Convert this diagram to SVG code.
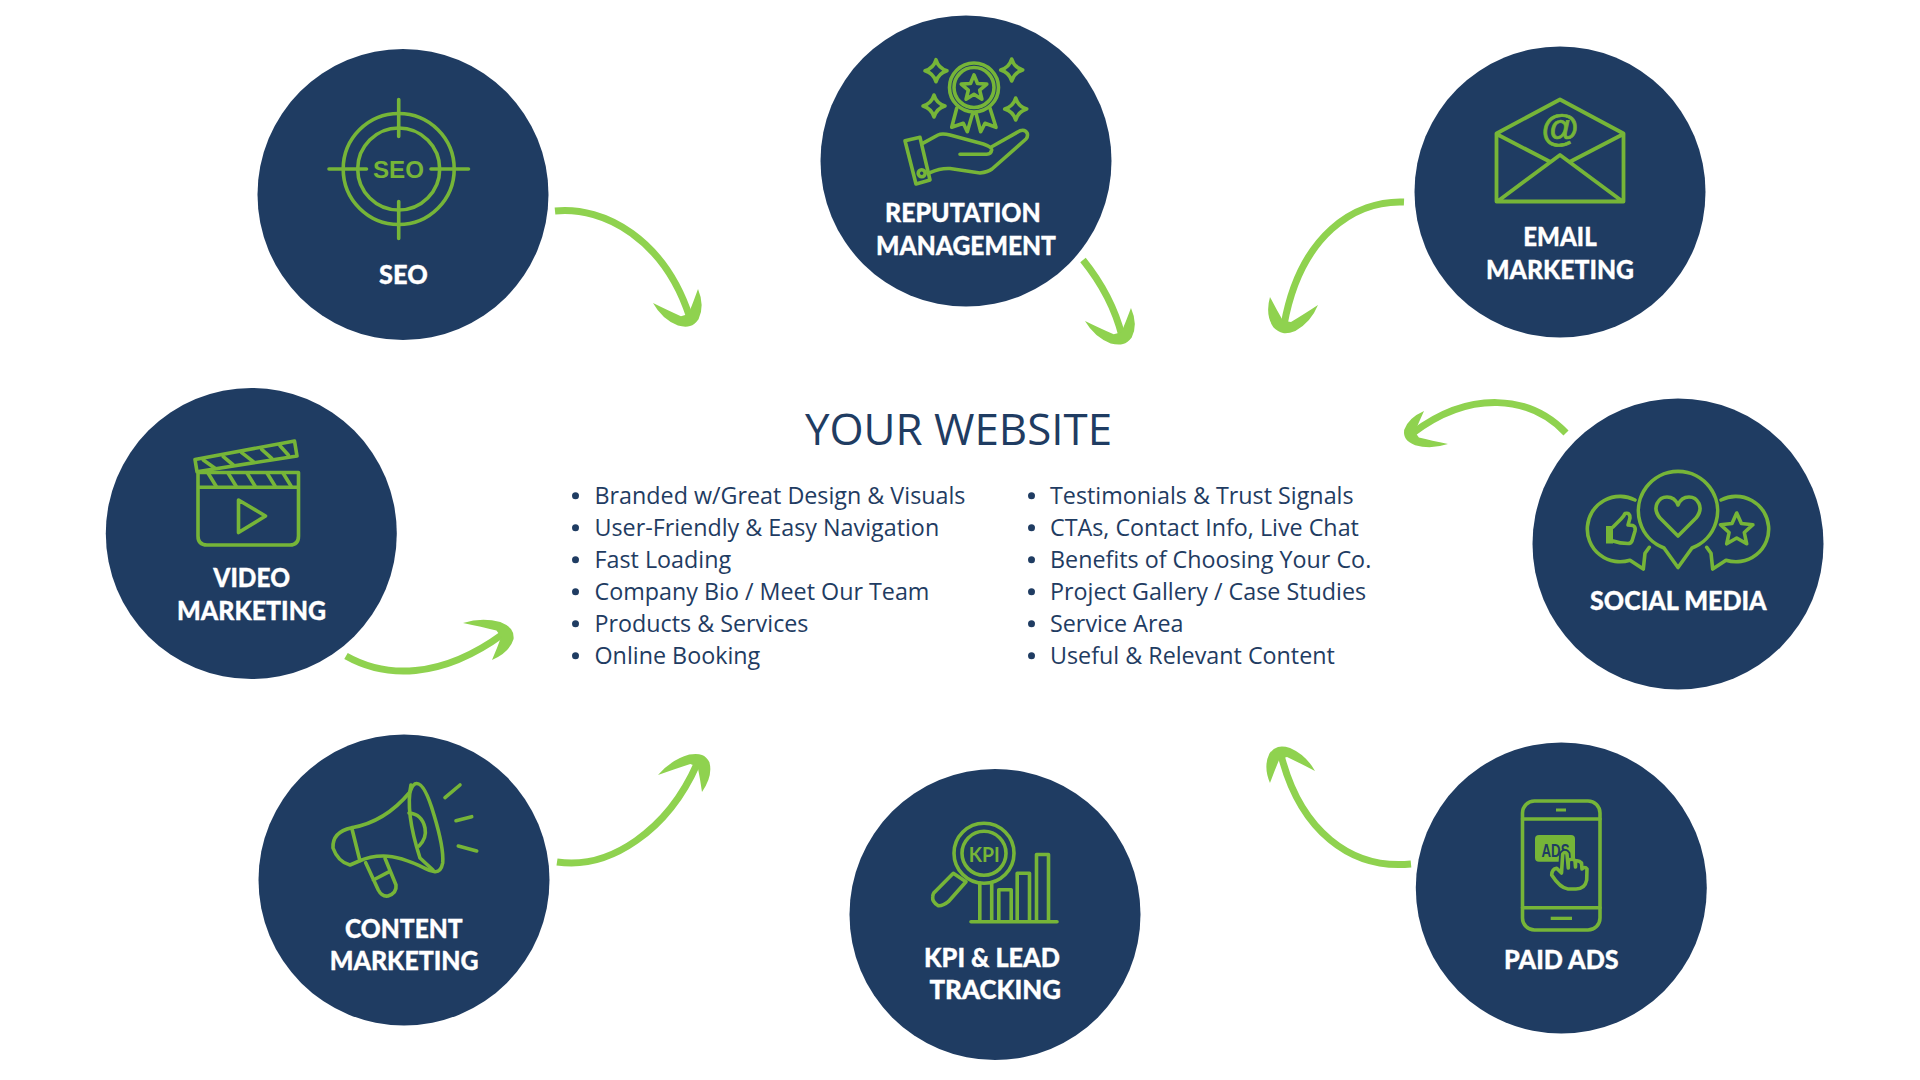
<svg xmlns="http://www.w3.org/2000/svg" xmlns:xlink="http://www.w3.org/1999/xlink" width="1920" height="1080" viewBox="0 0 1920 1080">
<style>
.disc{fill:#1f3c62}
.lb{font-family:Lato,"Liberation Sans",sans-serif;font-weight:900;font-size:26px;fill:#fff;stroke:#fff;stroke-width:.3px}
.ic{fill:none;stroke:#76b538;stroke-width:3.600;stroke-linejoin:round;stroke-linecap:round}
.gf{fill:#76b538}
.sh{fill:none;stroke:#8fd24f;stroke-width:7;stroke-linecap:butt}
.hd{fill:#8fd24f}
.tt{font-family:"Open Sans","Liberation Sans",sans-serif;fill:#1f3c62}
.li{font-size:23.300px}
.bu{fill:#1f3c62}
</style>
<defs>
<path id="head" d="M-33 24Q-21 13-12 4L-12-4Q-21-13-33-24Q-15-23-4-11Q0-5 0 0Q0 5-4 11Q-15 23-33 24Z"/>
<path id="spark" d="M0-11Q2.500-2.500 11 0Q2.500 2.500 0 11Q-2.500 2.500-11 0Q-2.500-2.500 0-11Z"/>
</defs>
<rect width="1920" height="1080" fill="#fff"/>

<g id="connectors">
<path class="sh" d="M555 211C605 206 665 240 690 318"/>
<use xlink:href="#head" href="#head" class="hd" transform="matrix(.439 .909 -.9375 .292 690 326)"/>
<path class="sh" d="M1083 260Q1112 296 1122 336"/>
<use xlink:href="#head" href="#head" class="hd" transform="matrix(.455 .894 -.958 .271 1123 344)"/>
<path class="sh" d="M1404 202C1355 200 1300 235 1284 325"/>
<use xlink:href="#head" href="#head" class="hd" transform="matrix(-.333 .97 -1 -.167 1283 333)"/>
<path class="sh" d="M1566 433C1530 395 1470 390 1413 433"/>
<use xlink:href="#head" href="#head" class="hd" transform="matrix(-.909 .348 -.5 -.6875 1406 439)"/>
<path class="sh" d="M346 656C385 678 440 680 503 634"/>
<use xlink:href="#head" href="#head" class="hd" transform="matrix(1.015 -.379 -.604 -.771 511 629)"/>
<path class="sh" d="M557 862C610 870 668 830 697 764"/>
<use xlink:href="#head" href="#head" class="hd" transform="matrix(.667 -.864 -.917 -.354 702 755)"/>
<path class="sh" d="M1411 864C1350 870 1300 830 1281 755"/>
<use xlink:href="#head" href="#head" class="hd" transform="matrix(-.439 -.909 .9375 -.25 1278 747)"/>
</g>

<g id="node-seo">
<circle class="disc" cx="403" cy="194.500" r="145.500"/>
<circle class="ic" cx="398.700" cy="169" r="55.500"/>
<circle class="ic" cx="398.700" cy="169" r="41"/>
<path class="ic" d="M398.700 99.500V136.500M398.700 201.500V238.500M329 169H366.500M431 169H468.500"/>
<text x="373" y="177.500" textLength="51" lengthAdjust="spacingAndGlyphs" font-family="'Liberation Sans',sans-serif" font-weight="700" font-size="24" fill="#76b538">SEO</text>
<text class="lb" x="379" y="284" textLength="48.700" lengthAdjust="spacingAndGlyphs">SEO</text>
</g>

<g id="node-reputation">
<circle class="disc" cx="966" cy="161" r="145.500"/>
<circle class="ic" cx="974" cy="87.500" r="24.500"/>
<circle class="ic" cx="974" cy="87.500" r="20"/>
<path class="ic" d="M974 74.800L977.500 83.500L986.800 84.100L979.700 90.200L981.900 99.200L974 94.300L966.100 99.200L968.300 90.200L961.200 84.100L970.500 83.500Z"/>
<path class="ic" d="M956.700 108.300L951.700 127.300L963.300 123.300L967.300 131.700L972.700 113.300M976 113.300L980.700 131.700L985 123.300L996 127.300L990 108.300"/>
<use xlink:href="#spark" href="#spark" class="ic" x="936" y="70.700"/>
<use xlink:href="#spark" href="#spark" class="ic" x="1011.700" y="70"/>
<use xlink:href="#spark" href="#spark" class="ic" x="934" y="106"/>
<use xlink:href="#spark" href="#spark" class="ic" x="1015.700" y="109"/>
<path class="ic" d="M905 140.700L920 137.300L930 180L916 184Z"/>
<circle class="ic" cx="921.700" cy="173.300" r="3.500"/>
<path class="ic" d="M922.700 143.300L938 135Q942 133 950 135L983.300 144Q992 147 991.700 150Q991 154 986.700 154.300H960M991.700 146.700L1020 130.700Q1025 129 1027.300 133.300Q1028 137 1026 139L992 169Q988 172 980 173L950 168.500Q940 168 930 172.700"/>
<text class="lb" x="885" y="222" textLength="155.700" lengthAdjust="spacingAndGlyphs">REPUTATION</text>
<text class="lb" x="876" y="255" textLength="180" lengthAdjust="spacingAndGlyphs">MANAGEMENT</text>
</g>

<g id="node-email">
<circle class="disc" cx="1560" cy="192" r="145.500"/>
<path class="ic" style="stroke-width:3.800" d="M1496.500 133.500L1560 99.500L1623.500 133.500V201.500H1496.500ZM1496.500 134L1550 161.700M1623.500 134L1570 161.700M1498 201L1560 155L1622 201"/>
<text x="1560" y="140.500" text-anchor="middle" font-family="'Liberation Sans',sans-serif" font-weight="700" font-size="38" fill="#76b538" stroke="#76b538" stroke-width=".7">@</text>
<text class="lb" x="1523.300" y="246.200" textLength="73.400" lengthAdjust="spacingAndGlyphs">EMAIL</text>
<text class="lb" x="1486" y="279" textLength="148" lengthAdjust="spacingAndGlyphs">MARKETING</text>
</g>

<g id="node-social">
<circle class="disc" cx="1678" cy="544" r="145.500"/>
<path class="ic" d="M1664 548A39.600 39.600 0 1 1 1692 548L1678 567.500Z"/>
<path class="ic" d="M1635 500A32.700 32.700 0 1 0 1630 560.200L1643.300 569L1645 553.300L1649.300 547.300"/>
<path class="ic" d="M1721 500A32.700 32.700 0 1 1 1726 560.200L1712.700 569L1711 553.300L1706.700 547.300"/>
<path class="ic" d="M1678 536L1660 518C1651 507 1659 497 1667 497C1672 497 1676 500 1678 505C1680 500 1684 497 1689 497C1697 497 1705 507 1696 518Z"/>
<path class="ic" d="M1736.700 513L1741.400 523.500L1752.900 524.700L1744.300 532.500L1746.700 543.800L1736.700 538L1726.700 543.800L1729.100 532.500L1720.500 524.700L1732 523.500Z"/>
<path class="ic" d="M1613 527L1621 519Q1624 516 1625 513.500Q1630 512 1630 518L1628 525L1633 525.500Q1636 527 1635 531L1632 541Q1631 543.500 1628 543.500Q1620 543.500 1613 541"/>
<rect class="gf" x="1606" y="526" width="7" height="17.500"/>
<text class="lb" x="1590" y="610" textLength="176.700" lengthAdjust="spacingAndGlyphs">SOCIAL MEDIA</text>
</g>

<g id="node-video">
<circle class="disc" cx="251.300" cy="533.500" r="145.500"/>
<path class="ic" d="M198 472.500H298.500V536Q298.500 545 290 545H207Q198 545 198 536ZM198 487.300H298.500"/>
<path class="ic" d="M195 459.500L294.500 441L297 456L197 471.700Z"/>
<path class="ic" d="M208 473L216 486M228 473L236 486M247 473L255 486M267 473L275 486M283 473L291 486M203.300 460L215 468.300M223.300 456.700L233.300 465M241.700 452.700L253.300 461.700M261.700 449.300L271.700 458.300M280 445.700L288.300 455"/>
<path class="ic" d="M238.500 500L265.500 516L238.500 532.500Z"/>
<text class="lb" x="213.300" y="586.700" textLength="76.700" lengthAdjust="spacingAndGlyphs">VIDEO</text>
<text class="lb" x="177" y="620" textLength="149" lengthAdjust="spacingAndGlyphs">MARKETING</text>
</g>

<g id="node-content">
<circle class="disc" cx="404" cy="880" r="145.500"/>
<path class="ic" d="M351.700 827.700Q385 822 410 792Q413 783 417 783.500Q425 784 434 815Q444 848 442.700 863Q441 872 435 871.700Q430 871 425 868.300Q400 856 383.300 856Q370 856 359.300 861L350 865Q338 862 333 848Q332 832 351.700 827.700L360 861"/>
<path class="ic" d="M411 785Q405 812 420 858L433 870"/>
<path class="ic" d="M409 813Q422 814 425 828Q427 838 419 846"/>
<path class="ic" d="M365.700 862.700L378.300 890Q382 897 388 896Q397 893 396 885L385 858.300M373.300 880L389.300 871.700"/>
<path class="ic" d="M445 797.700L460 785M456 820.700L471.700 816.700M458.300 846L476.700 851"/>
<text class="lb" x="345" y="938" textLength="117.700" lengthAdjust="spacingAndGlyphs">CONTENT</text>
<text class="lb" x="329.700" y="969.700" textLength="149" lengthAdjust="spacingAndGlyphs">MARKETING</text>
</g>

<g id="node-kpi">
<circle class="disc" cx="995" cy="914.500" r="145.500"/>
<circle class="ic" cx="984" cy="853.300" r="30"/>
<circle class="ic" cx="984" cy="853.300" r="22"/>
<text x="968.800" y="861.500" textLength="31" lengthAdjust="spacingAndGlyphs" font-family="Lato,sans-serif" font-weight="700" font-size="20" fill="#76b538">KPI</text>
<path class="ic" d="M953.300 873.300L966 881.700L948.300 901.700Q943 906 938.300 905.700Q932 902 932.700 896.700Q933 893 935 891.700Z"/>
<path class="ic" d="M971 921.700H1057M979.800 921.700V883M991.700 921.700V883M998.800 921.700V889.800H1011.200V921.700M1017.200 921.700V873.200H1029.500V921.700M1036.500 921.700V854.500H1048.500V921.700"/>
<text class="lb" x="924" y="967" textLength="136" lengthAdjust="spacingAndGlyphs">KPI &amp; LEAD</text>
<text class="lb" x="929.500" y="999" textLength="131.500" lengthAdjust="spacingAndGlyphs">TRACKING</text>
</g>

<g id="node-paid">
<circle class="disc" cx="1561.300" cy="888" r="145.500"/>
<rect class="ic" x="1522.500" y="801" width="77.500" height="129" rx="12"/>
<path class="ic" d="M1522.500 819H1600M1522.500 907.700H1600"/>
<rect class="gf" x="1556" y="808.500" width="10" height="3"/>
<rect class="gf" x="1550.700" y="916.700" width="21.300" height="3.300"/>
<rect class="gf" x="1535" y="835" width="40" height="26.700" rx="4"/>
<text x="1541.500" y="856.700" textLength="28" lengthAdjust="spacingAndGlyphs" font-family="'Liberation Sans',sans-serif" font-weight="700" font-size="19" fill="#1f3c62">ADS</text>
<path fill="none" stroke="#1f3c62" stroke-width="7" d="M1561.500 871L1562.700 854Q1565 851 1567 854L1568.300 868"/>
<path class="ic" style="fill:#1f3c62" d="M1561.500 873L1562.700 854Q1565 851 1567 854L1568.300 868V860.500Q1572 858 1575 860.500L1575.500 867V861Q1579 860 1581.500 863L1582 869Q1585 866 1587 869L1586.700 880Q1585 889 1576 889H1568Q1560 888 1551.700 875Q1552 869 1556.700 868.300Z"/>
<text class="lb" x="1504" y="969" textLength="114.700" lengthAdjust="spacingAndGlyphs">PAID ADS</text>
</g>

<g id="center-text">
<text class="tt" x="805" y="445" font-size="43" textLength="307" lengthAdjust="spacingAndGlyphs">YOUR WEBSITE</text>
<g class="tt li">
<text x="594.500" y="503.500">Branded w/Great Design &amp; Visuals</text>
<text x="594.500" y="535.500">User-Friendly &amp; Easy Navigation</text>
<text x="594.500" y="567.500">Fast Loading</text>
<text x="594.500" y="599.500">Company Bio / Meet Our Team</text>
<text x="594.500" y="631.500">Products &amp; Services</text>
<text x="594.500" y="663.500">Online Booking</text>
<text x="1050" y="503.500">Testimonials &amp; Trust Signals</text>
<text x="1050" y="535.500">CTAs, Contact Info, Live Chat</text>
<text x="1050" y="567.500">Benefits of Choosing Your Co.</text>
<text x="1050" y="599.500">Project Gallery / Case Studies</text>
<text x="1050" y="631.500">Service Area</text>
<text x="1050" y="663.500">Useful &amp; Relevant Content</text>
</g>
<g class="bu">
<circle cx="575.500" cy="495.700" r="3.500"/><circle cx="575.500" cy="527.700" r="3.500"/><circle cx="575.500" cy="559.700" r="3.500"/><circle cx="575.500" cy="591.700" r="3.500"/><circle cx="575.500" cy="623.700" r="3.500"/><circle cx="575.500" cy="655.700" r="3.500"/>
<circle cx="1031.500" cy="495.700" r="3.500"/><circle cx="1031.500" cy="527.700" r="3.500"/><circle cx="1031.500" cy="559.700" r="3.500"/><circle cx="1031.500" cy="591.700" r="3.500"/><circle cx="1031.500" cy="623.700" r="3.500"/><circle cx="1031.500" cy="655.700" r="3.500"/>
</g>
</g>
</svg>
